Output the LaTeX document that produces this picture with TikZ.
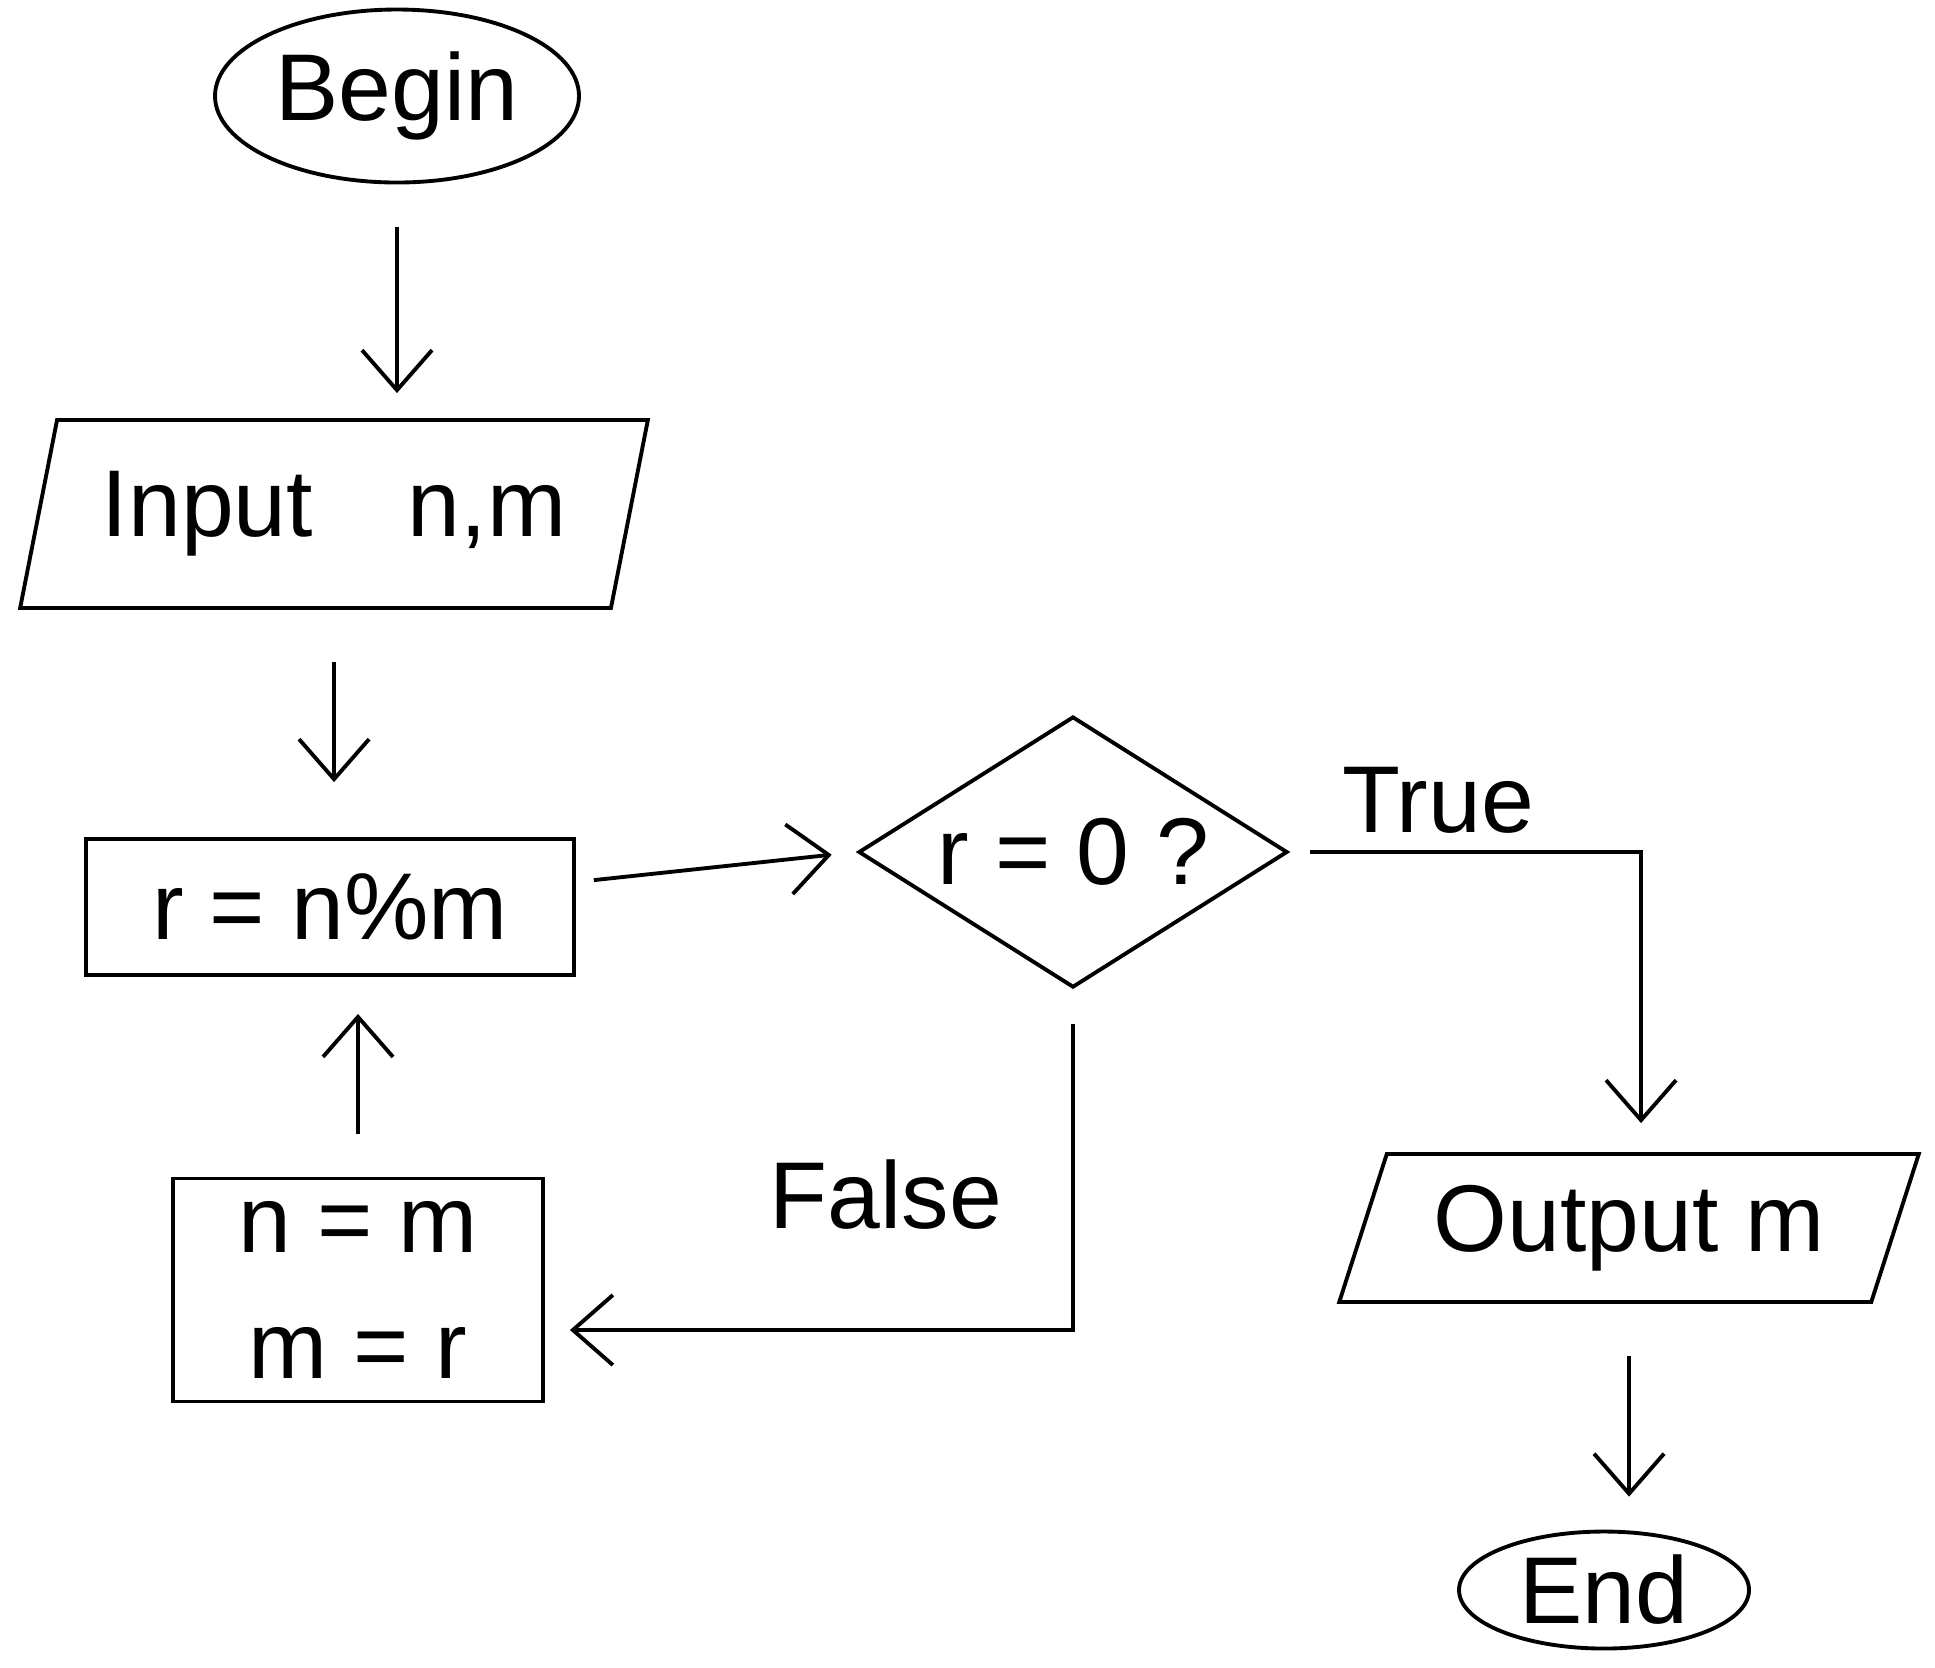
\documentclass[tikz,border=0pt]{standalone}
\usepackage{fontspec}
\setmainfont{Liberation Sans}
\usetikzlibrary{shapes.geometric,arrows.meta}
\begin{document}
\begin{tikzpicture}[
  line width=1.1pt,
  every node/.style={font=\fontsize{27}{36}\selectfont},
  terminal/.style={draw, ellipse, inner sep=0pt},
  iobox/.style={draw, trapezium, trapezium stretches=true, trapezium left angle=70, trapezium right angle=110, inner sep=0pt},
  procbox/.style={draw, rectangle, inner sep=0pt, align=center},
  decision/.style={draw, diamond, inner sep=0pt, aspect=1.6},
  arr/.style={-{Straight Barb[length=4mm,width=7mm]}},
  lbl/.style={inner sep=0pt}
]
\useasboundingbox (0,0) rectangle (19.35,-16.67);
\node[terminal, minimum width=3.64cm, minimum height=1.73cm] (B) at (3.97,-0.96) {Begin};
\node[iobox, minimum width=6.29cm, minimum height=1.88cm] (I) at (3.34,-5.14) {Input\quad n,m};
\node[procbox, minimum width=4.88cm, minimum height=1.36cm] (R) at (3.30,-9.07) {r = n\%m};
\node[decision, minimum width=4.29cm, minimum height=2.71cm] (D) at (10.73,-8.52) {r = 0 ?};
\node[procbox, minimum width=3.70cm, minimum height=2.23cm] (N) at (3.58,-12.90) {n = m\\m = r};
\node[iobox, minimum width=5.80cm, minimum height=1.48cm, trapezium left angle=66, trapezium right angle=114] (O) at (16.29,-12.28) {Output m};
\node[terminal, minimum width=2.90cm, minimum height=1.17cm] (E) at (16.04,-15.90) {End};
\node[lbl] (T) at (14.38,-8.00) {True};
\node[lbl] (F) at (8.86,-11.95) {False};
\draw[arr, shorten <=0.43cm, shorten >=0.25cm] (B.south) -- (B.south |- I.north);
\draw[arr, shorten <=0.52cm, shorten >=0.55cm] (I.south) -- (I.south |- R.north);
\draw[arr, shorten <=0.18cm, shorten >=0.25cm] ([yshift=0.25cm]R.east) -- (D.west);
\draw[arr, shorten <=0.21cm, shorten >=0.29cm] (D.east) -| ([xshift=0.12cm]O.north);
\draw[arr, shorten <=0.35cm, shorten >=0.25cm] (D.south) |- ([yshift=-0.4cm]N.east);
\draw[arr, shorten <=0.43cm, shorten >=0.37cm] (N.north) -- (N.north |- R.south);
\draw[arr, shorten <=0.52cm, shorten >=0.33cm] (O.south) -- (O.south |- E.north);
\end{tikzpicture}
\end{document}
